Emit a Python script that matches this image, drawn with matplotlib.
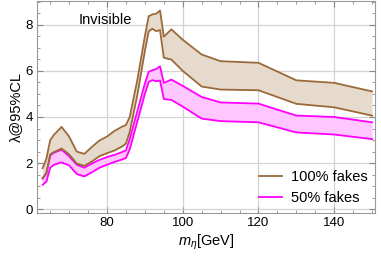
import matplotlib
matplotlib.use("Agg")
import matplotlib.pyplot as plt
from matplotlib.ticker import MultipleLocator

# masses (GeV)
m_eta = [63, 64, 65, 66, 68, 70, 72, 74, 76, 78, 80, 82, 84, 85, 86, 88,
         90, 91, 92, 93, 94, 95, 97, 100, 105, 110, 120, 130, 140, 150]

# 100% fakes band
full_hi = [1.78, 2.2, 3.0, 3.23, 3.57, 3.15, 2.5, 2.4, 2.7, 2.98, 3.15, 3.4,
           3.58, 3.65, 4.0, 5.6, 7.5, 8.37, 8.45, 8.48, 8.62, 7.48, 7.8, 7.35,
           6.71, 6.42, 6.35, 5.59, 5.48, 5.11]
full_lo = [1.36, 1.55, 2.38, 2.48, 2.63, 2.38, 1.98, 1.88, 2.07, 2.3, 2.43,
           2.55, 2.72, 2.85, 3.35, 4.95, 6.86, 7.72, 7.83, 7.72, 7.77, 6.57,
           6.49, 6.0, 5.32, 5.19, 5.16, 4.57, 4.42, 4.06]

# 50% fakes band
half_hi = [1.32, 1.58, 2.33, 2.45, 2.58, 2.3, 1.93, 1.8, 1.98, 2.14, 2.26,
           2.36, 2.48, 2.55, 3.05, 4.25, 5.45, 5.96, 6.03, 6.08, 6.2, 5.48,
           5.62, 5.35, 4.87, 4.63, 4.58, 4.06, 4.0, 3.77]
half_lo = [1.06, 1.2, 1.8, 1.93, 2.03, 1.9, 1.53, 1.42, 1.6, 1.8, 1.93, 2.05,
           2.16, 2.22, 2.6, 3.8, 5.0, 5.52, 5.6, 5.55, 5.58, 4.78, 4.74, 4.45,
           3.93, 3.82, 3.77, 3.33, 3.24, 3.04]

BROWN = "#9B6A3A"
MAGENTA = "#FF00FF"

plt.rcParams["font.family"] = ["Liberation Sans", "DejaVu Sans"]
plt.rcParams["mathtext.fontset"] = "custom"
plt.rcParams["mathtext.it"] = "Liberation Sans:italic"
plt.rcParams["mathtext.rm"] = "Liberation Sans"

fig = plt.figure(figsize=(3.81, 2.60), dpi=100)
ax = fig.add_axes([0.097, 0.182, 0.887, 0.815])

ax.fill_between(m_eta, half_lo, half_hi, color="#FFC6FF", lw=0)
ax.plot(m_eta, half_hi, color=MAGENTA, lw=1.3)
ax.plot(m_eta, half_lo, color=MAGENTA, lw=1.3, label="50% fakes")

ax.fill_between(m_eta, full_lo, full_hi, color="#E6DACD", lw=0)
ax.plot(m_eta, full_hi, color=BROWN, lw=1.3, label="100% fakes")
ax.plot(m_eta, full_lo, color=BROWN, lw=1.3)

ax.set_xlim(61.5, 150.75)
ax.set_ylim(-0.15, 9.04)

ax.xaxis.set_major_locator(MultipleLocator(20))
ax.xaxis.set_minor_locator(MultipleLocator(5))
ax.yaxis.set_major_locator(MultipleLocator(2))
ax.yaxis.set_minor_locator(MultipleLocator(0.5))
ax.tick_params(which="both", direction="in", top=True, right=True,
               color="#888888", labelsize=9.5, pad=3)
ax.tick_params(which="major", length=4)
ax.tick_params(which="minor", length=2.5)
for s in ax.spines.values():
    s.set_color("#999999")
    s.set_linewidth(0.8)

ax.grid(True, which="major", color="#D3D3D3", lw=0.9)
ax.set_axisbelow(True)

ax.text(79.5, 8.2, "Invisible", fontsize=10.5, ha="center", va="center")

ax.set_xlabel(r"$m_\eta$[GeV]", fontsize=10.5, labelpad=3)
ax.set_ylabel("λ@95%CL", fontsize=10.5, labelpad=2)

handles, labels = ax.get_legend_handles_labels()
ax.legend(handles[::-1], labels[::-1], loc="lower right", frameon=False,
          fontsize=10.5, handlelength=1.6, handletextpad=0.6,
          labelspacing=0.5, borderaxespad=0.1)

fig.savefig("out.png", dpi=100)
